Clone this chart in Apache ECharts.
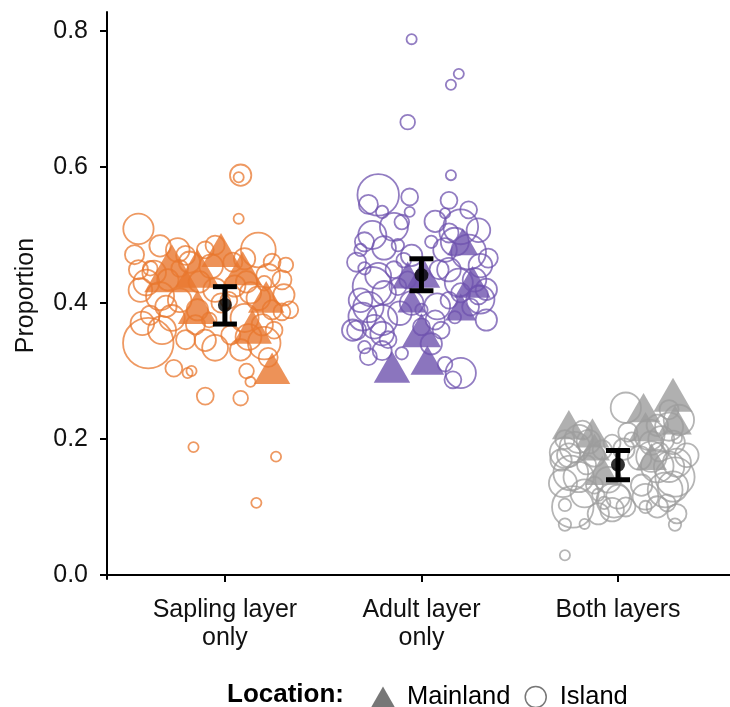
<!DOCTYPE html>
<html>
<head>
<meta charset="utf-8">
<script src="https://cdn.jsdelivr.net/npm/echarts@6/dist/echarts.min.js"></script>
<style>
html,body{margin:0;padding:0;background:#fff;}
#chart{width:730px;height:707px;}
</style>
</head>
<body>
<div id="chart"></div>
<script>
// ---------- DATA ----------
const categories = ['Sapling layer\nonly', 'Adult layer\nonly', 'Both layers'];
const yTickValues = [0, 0.2, 0.4, 0.6, 0.8];

// Sapling layer only — Island sites
const saplingIslandProp = [0.588,0.585,0.524,0.509,0.484,0.478,0.46,0.451,0.478,0.454,0.46,0.478,0.46,0.431,0.429,0.434,0.412,0.407,0.39,0.387,0.419,0.41,0.404,0.39,0.382,0.378,0.368,0.375,0.378,0.368,0.353,0.341,0.334,0.341,0.331,0.346,0.36,0.304,0.297,0.30,0.30,0.284,0.263,0.26,0.188,0.174,0.106,0.431,0.434,0.449,0.404,0.419,0.471,0.456,0.451,
  0.445,0.47,0.425,0.44,0.395,0.36,0.35,0.32,0.415,0.465,0.39,0.43,0.37,0.345,0.40,0.485];
const saplingIslandJitter = [0.08,0.07,0.07,-0.44,-0.33,-0.24,-0.18,-0.38,-0.10,-0.07,0.04,0.17,0.24,0.11,0.20,0.29,0.30,0.17,0.24,0.29,-0.43,-0.33,-0.23,-0.14,-0.38,-0.27,-0.15,-0.08,0.10,0.19,0.03,-0.39,-0.05,0.20,0.08,-0.20,0.25,-0.26,-0.19,-0.17,0.11,0.13,-0.10,0.08,-0.16,0.26,0.16,-0.13,-0.29,-0.44,0.02,-0.05,-0.46,0.31,-0.23,
  -0.36,-0.20,0.05,0.22,-0.30,-0.32,0.12,0.22,0.13,0.10,0.33,-0.40,-0.42,-0.10,-0.02,-0.05];
const saplingIslandWeight = [9,4,4,13,9,10,9,6,7,10,8,15,7,9,6,8,9,10,8,7,10,12,10,9,8,11,8,6,12,9,8,22,11,14,9,8,7,7,4,4,6,4,7,6,4,4,4,9,9,8,7,10,8,6,7,
  10,8,9,10,9,12,11,8,9,9,7,11,10,9,8,8];
// Sapling layer only — Mainland sites
const saplingMainProp = [0.451,0.451,0.478,0.451,0.394,0.409,0.365,0.304];
const saplingMainJitter = [-0.27,-0.14,-0.02,0.09,-0.14,0.21,0.14,0.24];
const saplingMainWeight = [20,16,14,14,14,13,14,13];

// Adult layer only — Island sites
const adultIslandProp = [0.788,0.737,0.721,0.666,0.588,0.559,0.556,0.534,0.534,0.551,0.537,0.532,0.512,0.519,0.49,0.478,0.481,0.485,0.49,0.512,0.507,0.503,0.478,0.475,0.451,0.463,0.449,0.424,0.434,0.449,0.449,0.434,0.404,0.394,0.415,0.424,0.375,0.365,0.385,0.39,0.375,0.36,0.404,0.415,0.412,0.394,0.379,0.335,0.321,0.326,0.346,0.365,0.297,0.287,0.36,0.46,0.375,0.466,
  0.50,0.47,0.43,0.40,0.38,0.355,0.34,0.52,0.455,0.42,0.395,0.36,0.49,0.545,0.44,0.33,0.31,0.405];
const adultIslandJitter = [-0.05,0.19,0.15,-0.07,0.15,-0.22,-0.06,-0.20,-0.06,0.14,0.24,0.12,-0.14,-0.10,-0.29,-0.31,-0.19,-0.12,0.05,0.20,0.29,0.14,0.12,0.24,-0.29,-0.09,-0.14,-0.25,-0.07,0.09,0.14,0.27,-0.31,-0.27,-0.19,-0.12,-0.20,-0.24,-0.11,0.0,0.07,0.10,0.14,0.20,0.29,0.25,0.17,-0.29,-0.27,-0.10,-0.17,0.0,0.20,0.16,-0.35,-0.33,0.33,0.34,
  -0.25,-0.05,0.19,-0.05,-0.30,-0.20,0.05,0.07,0.30,0.33,0.08,-0.33,0.17,-0.27,-0.22,-0.20,0.12,0.30];
const adultIslandWeight = [4,4,4,6,4,18,7,5,4,7,7,4,12,6,8,5,10,5,5,15,10,8,10,15,5,6,7,17,7,8,10,10,10,13,10,7,13,10,10,5,8,7,7,8,8,7,5,5,7,5,7,7,13,7,9,8,9,8,
  12,9,12,10,12,10,9,9,10,9,11,8,12,8,11,8,6,12];
// Adult layer only — Mainland sites
const adultMainProp = [0.49,0.431,0.444,0.441,0.36,0.394,0.306,0.316,0.404];
const adultMainJitter = [0.21,0.26,0.01,-0.07,0.0,0.20,-0.15,0.03,-0.05];
const adultMainWeight = [11,13,12,11,14,11,13,12,10];

// Both layers — Island sites
const bothIslandProp = [0.246,0.029,0.074,0.075,0.074,0.103,0.10,0.096,0.10,0.10,0.106,0.118,0.11,0.135,0.144,0.125,0.144,0.159,0.172,0.174,0.176,0.188,0.199,0.196,0.184,0.194,0.194,0.181,0.218,0.228,0.201,0.243,0.206,0.132,0.115,0.106,0.169,0.162,0.132,0.176,0.199,0.213,
  0.20,0.18,0.15,0.12,0.09,0.16,0.13,0.20,0.22,0.10,0.14,0.185,0.21,0.165,0.115,0.09,0.175,0.195];
const bothIslandJitter = [0.04,-0.27,-0.27,-0.17,0.29,-0.27,-0.23,-0.03,0.04,0.14,0.25,-0.10,-0.02,-0.28,-0.20,0.24,0.29,0.26,0.11,0.17,-0.25,-0.22,-0.27,-0.15,-0.08,-0.03,0.17,0.21,0.26,0.31,0.30,0.26,0.16,-0.12,0.0,-0.07,-0.29,-0.16,0.12,0.35,0.07,-0.18,
  -0.20,-0.27,-0.24,-0.17,-0.10,0.20,0.28,0.22,0.20,0.20,-0.05,0.03,0.05,0.30,0.14,0.30,-0.12,0.28];
const bothIslandWeight = [13,4,5,4,5,5,18,10,8,5,7,5,15,12,13,15,17,13,10,13,10,13,8,10,8,7,10,8,12,13,4,8,13,7,10,5,9,8,9,10,6,8,
  12,13,15,12,9,14,13,11,9,9,11,9,8,12,11,8,9,10];
// Both layers — Mainland sites
const bothMainProp = [0.221,0.209,0.246,0.265,0.218,0.228,0.154,0.188,0.174];
const bothMainJitter = [-0.25,-0.13,0.13,0.28,0.14,0.29,-0.08,-0.12,0.17];
const bothMainWeight = [12,12,12,14,12,12,12,11,11];

// Group means with 95% CI
const groupMean = [0.397, 0.441, 0.162];
const groupLower = [0.369, 0.418, 0.140];
const groupUpper = [0.424, 0.465, 0.183];

// ---------- BUILD ----------
const colors = ['#E8772E', '#6E52AE', '#9C9C9C'];
const groups = [
  {isl:[saplingIslandProp,saplingIslandJitter,saplingIslandWeight], main:[saplingMainProp,saplingMainJitter,saplingMainWeight]},
  {isl:[adultIslandProp,adultIslandJitter,adultIslandWeight], main:[adultMainProp,adultMainJitter,adultMainWeight]},
  {isl:[bothIslandProp,bothIslandJitter,bothIslandWeight], main:[bothMainProp,bothMainJitter,bothMainWeight]}
];
function pts(arr, gi){
  const [p,j,w] = arr;
  return p.map((v,i)=>[gi+1+j[i], v, w[i]]);
}
const radius = w => 1.12 * w + 0.6;
const series = [];
groups.forEach((g, gi) => {
  series.push({
    type:'scatter', name:'m'+gi, data: pts(g.main, gi), symbol:'triangle',
    symbolSize: d => [radius(d[2])*2.4, radius(d[2])*2.4*0.87],
    itemStyle:{color:colors[gi], opacity:0.8}, silent:true, z:2
  });
});
groups.forEach((g, gi) => {
  series.push({
    type:'scatter', name:'i'+gi, data: pts(g.isl, gi), symbol:'circle',
    symbolSize: d => radius(d[2])*2,
    itemStyle:{color:'rgba(0,0,0,0)', borderColor:colors[gi], borderWidth:1.8, opacity:0.75},
    silent:true, z:3
  });
});
series.push({
  type:'custom', name:'ci', z:5, silent:true,
  data: groupMean.map((m,i)=>[i+1, groupLower[i], groupUpper[i]]),
  renderItem: (params, api) => {
    const lo = api.coord([api.value(0), api.value(1)]);
    const hi = api.coord([api.value(0), api.value(2)]);
    const hw = 12;
    const st = {stroke:'#000', lineWidth:5};
    return {type:'group', children:[
      {type:'line', shape:{x1:lo[0],y1:lo[1],x2:hi[0],y2:hi[1]}, style:st},
      {type:'line', shape:{x1:lo[0]-hw,y1:lo[1],x2:lo[0]+hw,y2:lo[1]}, style:st},
      {type:'line', shape:{x1:hi[0]-hw,y1:hi[1],x2:hi[0]+hw,y2:hi[1]}, style:st}
    ]};
  }
});
series.push({
  type:'scatter', name:'mean', z:6, silent:true,
  data: groupMean.map((m,i)=>[i+1, m]), symbol:'circle', symbolSize:14,
  itemStyle:{color:'#000'}
});
// legend dummy series
series.push({type:'scatter', name:'Mainland', data:[], itemStyle:{color:'#555'}});
series.push({type:'scatter', name:'Island', data:[], itemStyle:{color:'#555'}});

const chart = echarts.init(document.getElementById('chart'));
chart.setOption({
  animation:false,
  backgroundColor:'#fff',
  textStyle:{fontFamily:'Liberation Sans, Arial, sans-serif'},
  grid:{left:107, right:0, top:12, bottom:128, containLabel:false},
  title:{text:'Location:', left:222, top:677,
    textStyle:{fontSize:26, fontWeight:'bold', color:'#000', fontFamily:'Liberation Sans, Arial, sans-serif'}},
  legend:{
    left:366, top:679, itemWidth:24, itemHeight:21, itemGap:14,
    data:[{name:'Mainland', icon:'triangle', itemStyle:{color:'#555'}},
          {name:'Island', icon:'circle', itemStyle:{color:'#fff', borderColor:'#555', borderWidth:1.5}}],
    textStyle:{fontSize:25.5, color:'#000', padding:[0,0,0,7]}
  },
  xAxis:{
    type:'value', min:0.4, max:3.57,
    axisLine:{show:true, lineStyle:{color:'#000', width:2}},
    axisTick:{show:true, customValues:[1,2,3], length:7, lineStyle:{color:'#000', width:2}},
    axisLabel:{customValues:[1,2,3], formatter:v=>categories[Math.round(v)-1], fontSize:25, color:'#111', margin:17, lineHeight:28, align:'center'},
    splitLine:{show:false}
  },
  yAxis:{
    type:'value', min:-0.006, max:0.828,
    name:'Proportion', nameLocation:'middle', nameGap:68, nameRotate:90,
    nameTextStyle:{fontSize:25, color:'#111'},
    axisLine:{show:true, lineStyle:{color:'#000', width:2}},
    axisTick:{show:true, customValues:yTickValues, length:7, lineStyle:{color:'#000', width:2}},
    axisLabel:{customValues:yTickValues, formatter:v=>v.toFixed(1), fontSize:25, color:'#111', margin:19},
    splitLine:{show:false}
  },
  series: series
});
</script>
</body>
</html>
